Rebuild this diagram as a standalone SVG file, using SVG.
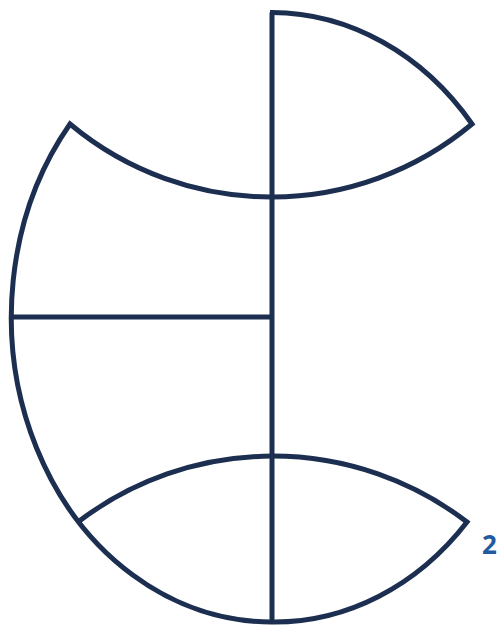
<svg xmlns="http://www.w3.org/2000/svg" width="499" height="627" viewBox="0 0 499 627">
<style>
.ln{fill:none;stroke:#1c2f51;stroke-width:5;stroke-linejoin:miter;stroke-linecap:butt}
.lbl{font-family:"Open Sans","Liberation Sans",sans-serif;font-weight:bold;font-size:26px;fill:#1f5b9e}
</style>
<rect width="499" height="627" fill="#fff"/>
<g id="connectors">
<path class="ln" d="M272,622 L272,12.5"/>
<path class="ln" d="M12,317 L272,317"/>
</g>
<g id="top-lobe">
<path class="ln" d="M270,12.5 L272,12.5 A260,305 0 0 1 472,124 A313,313 0 0 1 272,197"/>
</g>
<g id="left-lobe">
<path class="ln" d="M272,197 A313,313 0 0 1 70,124 A260,305 0 0 0 272,622"/>
</g>
<g id="bottom-lens">
<path class="ln" d="M78,522 A320,320 0 0 1 467,522 A260,305 0 0 1 272,622"/>
</g>
<g id="label">
<text class="lbl" x="482" y="554">2</text>
</g>
</svg>
